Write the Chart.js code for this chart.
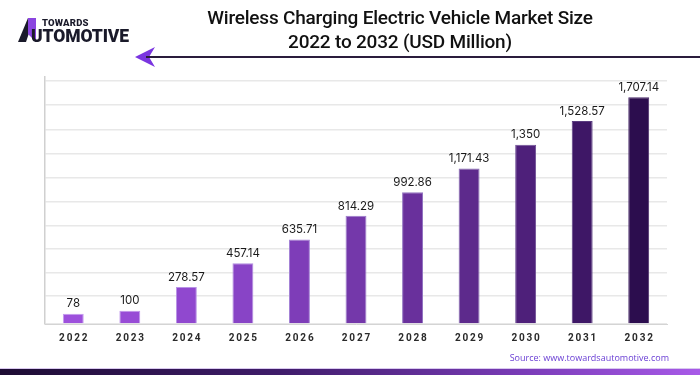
<!DOCTYPE html>
<html>
<head>
<meta charset="utf-8">
<script src="https://cdn.jsdelivr.net/npm/chart.js@4/dist/chart.umd.min.js"></script>
<style>
    html, body { margin: 0; padding: 0; background: #fff; }
    #wrap { position: relative; width: 700px; height: 375px; overflow: hidden; font-family: 'Roboto', sans-serif; }
    #chart { position: absolute; left: 0; top: 0; }
    .title { position: absolute; left: 150px; width: 500px; text-align: center; top: 6px;
             font-size: 19px; font-weight: 500; line-height: 24px; color: #111; letter-spacing: -0.2px; }
    .logo { position: absolute; left: 16px; top: 14px; }
    .logo .t1 { position: absolute; left: 26px; top: 3px; font: 900 9.5px 'Roboto', sans-serif; color: #1a1a2a; letter-spacing: 0.2px; }
    .logo .t2 { position: absolute; left: 15px; top: 12px; font: 900 17.5px 'Roboto', sans-serif; color: #1a1a2a; letter-spacing: -0.1px; white-space: nowrap; }
    .rule { position: absolute; left: 146px; right: 0; top: 56px; height: 2px; background: #2a1c3c; }
    .source { position: absolute; right: 31px; top: 351px; font-size: 9px; color: #6a3fd4; font-family: 'Open Sans', sans-serif; }
    .stripe { position: absolute; left: 0; right: 0; top: 369px; height: 6px;
              background: linear-gradient(90deg, #1d0c33 0%, #3f1c6a 40%, #7a3cb8 75%, #a85ae8 100%); }
    .stripe-top { position: absolute; left: 0; right: 0; top: 368px; height: 1px; background: #d9c8ef; }
</style>
</head>
<body>
<div id="wrap">
    <canvas id="chart" width="700" height="375"></canvas>
    <div class="logo">
        <svg width="24" height="30" style="position:absolute;left:0;top:0">
            <polygon points="2,28 12,4 18,4 10,28" fill="#1a1a2a"/>
            <polygon points="12,4 20,4 20,28 12,20" fill="#8b45e0"/>
        </svg>
        <div class="t1">TOWARDS</div>
        <div class="t2">UTOMOTIVE</div>
    </div>
    <div class="title">Wireless Charging Electric Vehicle Market Size<br>2022 to 2032 (USD Million)</div>
    <svg width="30" height="24" style="position:absolute;left:133px;top:45px">
        <polygon points="2,12 22,2 16,12 22,22" fill="#7a35e0"/>
    </svg>
    <div class="rule"></div>
    <div class="source">Source: www.towardsautomotive.com</div>
    <div class="stripe-top"></div>
    <div class="stripe"></div>
</div>
<script>
// chart data
const years = ['2022', '2023', '2024', '2025', '2026', '2027', '2028', '2029', '2030', '2031', '2032'];
const marketSize = [78, 100, 278.57, 457.14, 635.71, 814.29, 992.86, 1171.43, 1350, 1528.57, 1707.14];
const gridValues = [0, 212, 388, 564, 742, 922, 1103, 1283, 1466, 1650, 1835];
const barColors = ['#9d50dc', '#984cd6', '#9048cf', '#8844c6', '#7e3db8', '#7438aa',
                   '#69309c', '#5d2a8c', '#4e207a', '#3e1766', '#2c0d4e'];
const barEdges = ['#c49af0', '#c096ec', '#b892e6', '#b08ce0', '#a584d6', '#9b7ccb',
                  '#9274c0', '#856ab2', '#6f4f96', '#5a3c80', '#4a2c6a'];

const fmt = v => v.toLocaleString('en-US', { maximumFractionDigits: 2 });

// value labels above bars and spaced year labels under the axis
const labelPlugin = {
    id: 'labels',
    afterDatasetsDraw(chart) {
        const ctx = chart.ctx;
        const meta = chart.getDatasetMeta(0);
        const xScale = chart.scales.x;
        ctx.save();
        ctx.fillStyle = '#1a1a1a';
        ctx.font = '11.5px Inter, sans-serif';
        ctx.textAlign = 'center';
        ctx.textBaseline = 'bottom';
        meta.data.forEach((bar, i) => {
            ctx.fillText(fmt(marketSize[i]), bar.x, bar.y - 4);
        });
        ctx.font = 'bold 10px Roboto, sans-serif';
        ctx.fillStyle = '#2a2a2a';
        ctx.letterSpacing = '1.8px';
        ctx.textBaseline = 'middle';
        years.forEach((y, i) => {
            ctx.fillText(y, xScale.getPixelForValue(i) + 0.9, 338);
        });
        ctx.restore();
    }
};

const ctx = document.getElementById('chart').getContext('2d');
new Chart(ctx, {
    type: 'bar',
    data: {
        labels: years,
        datasets: [{
            data: marketSize,
            backgroundColor: barColors,
            borderColor: barEdges,
            borderWidth: { left: 1, right: 1, top: 1, bottom: 0 },
            borderSkipped: 'bottom',
            barPercentage: 0.37,
            categoryPercentage: 1
        }]
    },
    options: {
        responsive: false,
        animation: false,
        layout: { padding: { left: 45, right: 33, top: 77, bottom: 43 } },
        plugins: {
            legend: { display: false },
            tooltip: { enabled: false }
        },
        scales: {
            x: {
                grid: { display: false },
                border: { color: '#d4d4d4', width: 1 },
                ticks: { display: false }
            },
            y: {
                min: 0,
                max: 1860,
                afterBuildTicks: scale => { scale.ticks = gridValues.map(v => ({ value: v })); },
                grid: { color: '#e8e8e8', lineWidth: 1.5, drawTicks: false },
                border: { color: '#d0d0d0', width: 1.5 },
                ticks: { display: false }
            }
        }
    },
    plugins: [labelPlugin]
});
</script>
</body>
</html>
